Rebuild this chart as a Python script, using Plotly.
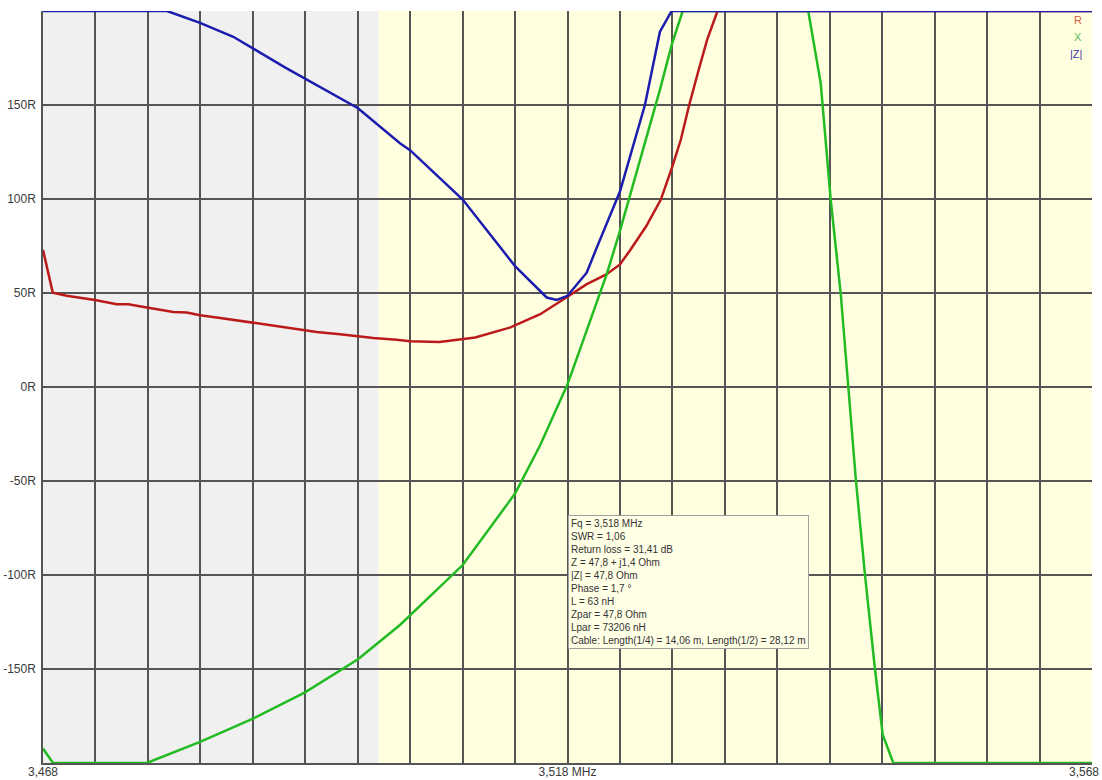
import plotly.graph_objects as go

# ---- data (frequency in MHz, values in Ohm) ----
r_freq = [3.4680, 3.46893, 3.47026, 3.47296, 3.47503, 3.47613, 3.47804, 3.48042, 3.48170,
          3.48297, 3.48456, 3.48614, 3.48805, 3.48995, 3.49186, 3.49409, 3.49631, 3.49791,
          3.49949, 3.50172, 3.50299, 3.5058, 3.5092, 3.5125, 3.5154, 3.5180, 3.5198, 3.5217,
          3.5230, 3.5240, 3.5255, 3.5269, 3.5280, 3.5288, 3.5296, 3.5305, 3.5313, 3.5323, 3.568]
r_vals = [73.0, 50.2, 48.5, 46.3, 44.0, 44.0, 42.2, 39.9, 39.6,
          38.2, 37.0, 35.7, 33.9, 32.5, 30.8, 29.3, 28.1, 26.9,
          26.1, 25.1, 24.4, 24.0, 26.3, 31.6, 38.7, 48.0, 54.6, 59.9,
          65.2, 73.0, 85.5, 99.7, 117.3, 131.5, 150.0, 168.6, 184.5, 200.0, 200.0]

x_freq = [3.4680, 3.46895, 3.47789, 3.48297, 3.48802, 3.49298, 3.49803, 3.50203, 3.50801,
          3.51300, 3.51538, 3.51800, 3.51919, 3.52174, 3.52300, 3.52522, 3.52681, 3.52793,
          3.52898, 3.54095, 3.54214, 3.54309, 3.54404, 3.54477, 3.54550, 3.54636, 3.54731,
          3.54805, 3.54906, 3.568]
x_vals = [-192.3, -200.0, -200.0, -188.8, -176.4, -162.4, -144.8, -126.6, -94.7,
          -56.7, -31.1, 1.4, 20.0, 60.0, 83.0, 126.0, 158.0, 182.0,
          200.0, 200.0, 161.5, 99.7, 50.0, 0.0, -50.0, -100.0, -150.0,
          -185.0, -200.0, -200.0]

z_freq = [3.4680, 3.47982, 3.48297, 3.48614, 3.49106, 3.49803, 3.50203, 3.50299, 3.50801,
          3.51300, 3.51602, 3.51697, 3.51800, 3.51983, 3.52078, 3.52300, 3.52538, 3.52681,
          3.52793, 3.568]
z_vals = [200.0, 200.0, 193.7, 186.3, 170.0, 148.3, 129.7, 126.0, 99.7,
          64.3, 47.6, 46.3, 48.5, 60.8, 74.0, 104.0, 150.0, 189.0,
          200.0, 200.0]

y_ticks = [-200, -150, -100, -50, 0, 50, 100, 150, 200]
y_labels = ["", "-150R", "-100R", "-50R", "0R", "50R", "100R", "150R", ""]
x_ticks = [3.468, 3.518]
x_labels = ["3,468", "3,518 MHz"]
x_end_label = "3,568"

band_start = 3.500

info_lines = [
    "Fq = 3,518 MHz",
    "SWR = 1,06",
    "Return loss = 31,41 dB",
    "Z = 47,8 + j1,4 Ohm",
    "|Z| = 47,8 Ohm",
    "Phase = 1,7 °",
    "L = 63 nH",
    "Zpar = 47,8 Ohm",
    "Lpar = 73206 nH",
    "Cable: Length(1/4) = 14,06 m, Length(1/2) = 28,12 m",
]

GRID = "#555555"
FONT = "Liberation Sans, Arial, sans-serif"

fig = go.Figure()
fig.add_trace(go.Scatter(x=r_freq, y=r_vals, mode="lines", name="R",
                         line=dict(color="#bb1a1a", width=2.5)))
fig.add_trace(go.Scatter(x=x_freq, y=x_vals, mode="lines", name="X",
                         line=dict(color="#22bb22", width=2.5)))
fig.add_trace(go.Scatter(x=z_freq, y=z_vals, mode="lines", name="|Z|",
                         line=dict(color="#1c1cae", width=2.5)))

# background bands
fig.add_shape(type="rect", xref="x", yref="paper", x0=3.468, x1=band_start, y0=0, y1=1,
              fillcolor="#f0f0f0", line=dict(width=0), layer="below")
fig.add_shape(type="rect", xref="x", yref="paper", x0=band_start, x1=3.568, y0=0, y1=1,
              fillcolor="#ffffe0", line=dict(width=0), layer="below")

fig.update_xaxes(range=[3.468, 3.568], tickvals=x_ticks, ticktext=x_labels,
                 showgrid=True, gridcolor=GRID, gridwidth=1.5,
                 minor=dict(dtick=0.005, tick0=3.468, showgrid=True, gridcolor=GRID, gridwidth=1.5),
                 zeroline=False, showline=True, linecolor=GRID, linewidth=1.5,
                 automargin=False, ticklabelstandoff=-3,
                 ticks="", tickfont=dict(family=FONT, size=12, color="#3a3a3a"))
fig.update_yaxes(range=[-200, 200], tickvals=y_ticks, ticktext=y_labels,
                 showgrid=True, gridcolor=GRID, gridwidth=1.5,
                 zeroline=False, showline=True, linecolor=GRID, linewidth=1.5,
                 automargin=False,
                 ticks="", ticklabelstandoff=3,
                 tickfont=dict(family=FONT, size=12, color="#3a3a3a"))

annotations = [
    dict(xref="x", yref="paper", x=3.568, y=0, xanchor="right", yanchor="top",
         text=x_end_label, showarrow=False, xshift=9, yshift=0,
         font=dict(family=FONT, size=12, color="#3a3a3a")),
    dict(xref="paper", yref="paper", x=1, y=0.988, xanchor="right", yanchor="middle",
         text="R", showarrow=False, xshift=-8, font=dict(family=FONT, size=11, color="#d8603c")),
    dict(xref="paper", yref="paper", x=1, y=0.9654, xanchor="right", yanchor="middle",
         text="X", showarrow=False, xshift=-8, font=dict(family=FONT, size=11, color="#5cc05c")),
    dict(xref="paper", yref="paper", x=1, y=0.9428, xanchor="right", yanchor="middle",
         text="|Z|", showarrow=False, xshift=-8, font=dict(family=FONT, size=11, color="#3c3ca8")),
    dict(xref="x", yref="y", x=3.518, y=-68, xanchor="left", yanchor="top",
         text="<br>".join(info_lines), showarrow=False, align="left",
         bgcolor="#ffffe6", bordercolor="#a0a0a0", borderwidth=1, borderpad=2,
         font=dict(family=FONT, size=10, color="#333333")),
]

fig.update_layout(width=1102, height=780, margin=dict(l=43, r=10, t=11, b=17),
                  paper_bgcolor="white", plot_bgcolor="white", showlegend=False,
                  annotations=annotations)

# remove the default 8 px page margin so the figure fills the window exactly
fig.write_html("out.html",
               config={"displayModeBar": False},
               post_script="document.body.style.margin='0px';"
                           "document.body.style.overflow='hidden';")
